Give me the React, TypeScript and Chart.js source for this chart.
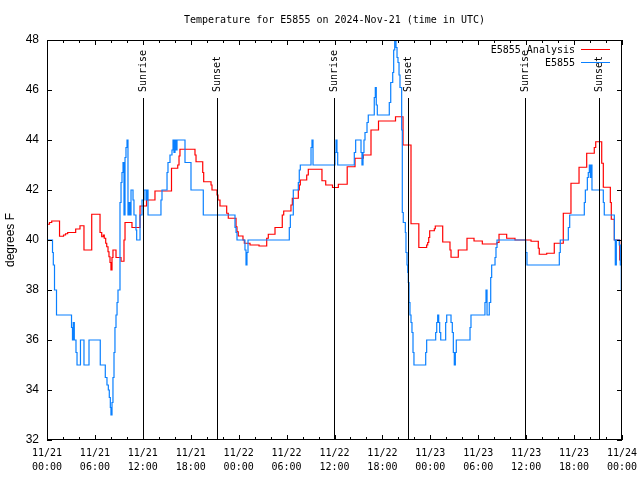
import React, { useEffect, useRef } from "react";
import { Chart, registerables } from "chart.js";

Chart.register(...registerables);

const TITLE = "Temperature for E5855 on 2024-Nov-21 (time in UTC)";
const Y_LABEL = "degrees F";
const SERIES_NAMES = ["E5855 Analysis", "E5855"];
const SERIES_COLORS = ["#ff0000", "#0a80ff"];

const X_TICK_HOURS = [0, 6, 12, 18, 24, 30, 36, 42, 48, 54, 60, 66, 72];
const X_TICK_LABELS = [
  ["11/21", "00:00"], ["11/21", "06:00"], ["11/21", "12:00"], ["11/21", "18:00"],
  ["11/22", "00:00"], ["11/22", "06:00"], ["11/22", "12:00"], ["11/22", "18:00"],
  ["11/23", "00:00"], ["11/23", "06:00"], ["11/23", "12:00"], ["11/23", "18:00"],
  ["11/24", "00:00"],
];
const X_MINOR_STEP = 2;
const Y_TICKS = [32, 34, 36, 38, 40, 42, 44, 46, 48];

const SUN_EVENT_HOURS = [12.02, 21.29, 35.94, 45.2, 59.86, 69.12];
const SUN_EVENT_LABELS = ["Sunrise", "Sunset", "Sunrise", "Sunset", "Sunrise", "Sunset"];

// E5855 observations (hours since 11/21 00:00 UTC, degrees F)
const obsHours = [
  0, 0.69, 0.79, 0.94, 1.19, 3.07, 3.19, 3.29, 3.42, 3.63, 3.76, 4.19, 4.63, 5.26, 6.67,
  7.3, 7.51, 7.68, 7.8, 7.93, 8.01, 8.14, 8.26, 8.39, 8.51, 8.64, 8.77, 8.89, 9.14, 9.27,
  9.39, 9.52, 9.64, 9.77, 9.89, 10.02, 10.14, 10.27, 10.39, 10.52, 10.77, 10.89, 11.14, 11.23,
  11.65, 11.9, 12.15, 12.4, 12.52, 12.65, 14.27, 14.4, 15.03, 15.15, 15.4, 15.65, 15.78, 15.9,
  16.03, 16.15, 16.28, 17.28, 18.03, 19.57, 23.54, 23.67, 23.79, 24.79, 24.92, 25.04, 25.17,
  30.34, 30.47, 30.84, 31.47, 31.59, 31.72, 33.06, 33.18, 33.31, 36.06, 36.19, 36.31, 36.4,
  38.48, 38.65, 39.32, 39.44, 39.57, 39.69, 39.82, 40.07, 40.23, 40.98, 41.11, 41.23, 41.36,
  42.86, 43.04, 43.29, 43.41, 43.54, 43.7, 43.83, 43.95, 44.08, 44.2, 44.41, 44.49, 44.61,
  44.87, 44.95, 45.08, 45.17, 45.24, 45.33, 45.45, 45.58, 45.7, 45.83, 45.95, 47.42, 47.54,
  48.67, 48.8, 48.92, 49.05, 49.17, 49.3, 49.92, 50.05, 50.59, 50.75, 50.88, 51.0, 51.13,
  51.25, 52.97, 53.09, 54.84, 54.97, 55.1, 55.38, 55.56, 55.68, 56.1, 56.22, 56.35, 59.94,
  60.1, 64.15, 64.27, 65.28, 65.45, 67.28, 67.41, 67.66, 67.78, 67.91, 68.03, 68.12, 68.24,
  69.66, 69.78, 71.04, 71.16, 71.29, 71.66, 71.79, 71.91, 72,
];
const obsTemps = [
  40, 39.5, 39, 38, 37, 36.5, 36, 36.7, 36, 35.5, 35, 36, 35, 36, 35,
  34.5, 34.2, 34, 33.7, 33.3, 33, 33.5, 34.5, 35.5, 36.5, 37, 37.5, 38, 41.5, 42.3,
  42.7, 43.1, 41, 43.3, 43.7, 44, 41, 41.5, 41, 42, 41.6, 41, 40.4, 40,
  41, 41.6, 42, 41.6, 42, 41, 41.6, 42, 42.7, 43.1, 43.4, 43.6, 44, 43.5,
  44, 43.6, 44, 43.1, 42, 41, 40.5, 40.3, 40, 39.6, 39, 39.5, 40,
  40.5, 41, 42, 42.3, 42.8, 43, 43.7, 44, 43, 43.5, 44, 43.5, 43,
  43.5, 44, 43.5, 43, 43.5, 44, 44.3, 44.7, 45, 45.7, 46.1, 45.4, 45,
  45.5, 46.3, 46.7, 47.6, 48, 47.7, 47.3, 47.1, 46.6, 46.1, 44.4, 41.1, 40.7,
  40.3, 39.5, 39, 38.7, 38.3, 37.5, 37, 36.7, 36.3, 35.5, 35, 35.5, 36,
  36.3, 36.7, 37, 36.7, 36.3, 36, 36.7, 37, 36.7, 36.3, 35.5, 35, 35.5,
  36, 36.5, 37, 37.5, 38, 37, 37.5, 38.5, 39, 39.3, 39.7, 40, 39.5,
  39, 39.5, 40, 40.5, 41, 41.5, 42, 42.5, 42.7, 43, 42.5, 43, 42,
  41.5, 41, 40, 39, 40, 39.8, 39, 38, 38,
];

// E5855 Analysis
const anaHours = [
  0, 0.31, 0.59, 1.57, 2.07, 2.32, 2.59, 3.59, 4.13, 4.63, 5.6, 6.64, 6.85, 7.05, 7.17, 7.35,
  7.48, 7.64, 7.76, 7.89, 8.01, 8.14, 8.26, 8.64, 9.27, 9.64, 9.77, 10.64, 11.65, 12.46, 13.52,
  15.59, 16.37, 16.53, 16.65, 18.53, 18.66, 19.5, 19.62, 20.54, 20.66, 21.29, 21.41, 21.66,
  22.5, 22.7, 23.67, 23.79, 23.95, 24.54, 24.71, 25.42, 26.55, 27.51, 27.71, 28.55, 29.46,
  29.64, 30.55, 30.72, 31.47, 31.59, 31.72, 32.52, 32.72, 34.43, 34.9, 35.75, 36.48, 37.59,
  38.57, 39.61, 40.57, 41.51, 43.64, 44.58, 45.58, 46.56, 47.54, 47.67, 47.8, 47.92, 48.5,
  48.62, 49.55, 50.46, 50.59, 51.5, 52.59, 53.47, 54.51, 56.35, 56.6, 57.56, 58.6, 60.61,
  61.52, 61.64, 62.57, 63.52, 64.65, 65.61, 66.62, 67.58, 68.53, 68.71, 69.46, 69.66, 70.54,
  70.66, 71.04, 71.71, 72,
];
const anaTemps = [
  40.63, 40.7, 40.76, 40.15, 40.2, 40.25, 40.3, 40.44, 40.57, 39.6, 41.03, 40.3, 40.13, 40.2, 40.07, 39.87,
  39.73, 39.53, 39.33, 39.1, 38.8, 39.3, 39.6, 39.3, 39.15, 40.0, 40.7, 40.5, 41.36, 41.6, 41.96,
  42.87, 43.0, 43.36, 43.63, 43.4, 43.13, 42.7, 42.33, 42.2, 42.0, 41.8, 41.6, 41.36,
  41.07, 40.87, 40.53, 40.33, 40.16, 40.0, 39.87, 39.8, 39.76, 40.07, 40.23, 40.5, 41.0,
  41.16, 41.4, 41.67, 42.0, 42.2, 42.4, 42.6, 42.83, 42.37, 42.2, 42.1, 42.23, 42.93,
  43.27, 43.4, 44.4, 44.76, 44.93, 43.8, 40.65, 39.7, 39.8, 39.9, 40.1, 40.37, 40.45,
  40.56, 39.92, 39.6, 39.31, 39.6, 40.07, 39.96, 39.84, 39.9, 40.23, 40.07, 40.0, 39.95,
  39.67, 39.43, 39.47, 39.87, 41.07, 42.27, 42.91, 43.47, 43.7, 43.93, 43.07, 42.11, 41.5,
  40.83, 40.0, 39.2, 39.2,
];

const MONO = "'DejaVu Sans Mono', 'Liberation Mono', monospace";
const SANS = "'Liberation Sans', Arial, sans-serif";

const gnuplotDecor = {
  id: "gnuplotDecor",
  afterDatasetsDraw(chart: any) {
    const { ctx, chartArea: a, scales } = chart;
    const xs = scales.x;
    const ys = scales.y;
    ctx.save();
    ctx.strokeStyle = "#000";
    ctx.lineWidth = 1;
    ctx.fillStyle = "#000";

    // sunrise / sunset markers
    SUN_EVENT_HOURS.forEach((h, i) => {
      const px = Math.round(xs.getPixelForValue(h)) + 0.5;
      ctx.beginPath();
      ctx.moveTo(px, a.top + 58);
      ctx.lineTo(px, a.bottom);
      ctx.stroke();
      ctx.save();
      ctx.translate(px, a.top + 52);
      ctx.rotate(-Math.PI / 2);
      ctx.font = `10px ${MONO}`;
      ctx.textAlign = "left";
      ctx.textBaseline = "middle";
      ctx.fillText(SUN_EVENT_LABELS[i], 0, 0);
      ctx.restore();
    });

    // border
    ctx.strokeRect(a.left + 0.5, a.top + 0.5, a.right - a.left - 1, a.bottom - a.top - 1);

    // x ticks (major and minor), mirrored; y ticks mirrored
    const xMin = X_TICK_HOURS[0];
    const xMax = X_TICK_HOURS[X_TICK_HOURS.length - 1];
    ctx.beginPath();
    for (let h = xMin; h <= xMax; h += X_MINOR_STEP) {
      const px = Math.round(xs.getPixelForValue(h)) + 0.5;
      const len = X_TICK_HOURS.includes(h) ? 5 : 3;
      ctx.moveTo(px, a.bottom);
      ctx.lineTo(px, a.bottom - len);
      ctx.moveTo(px, a.top);
      ctx.lineTo(px, a.top + len);
    }
    Y_TICKS.forEach((v) => {
      const py = Math.round(ys.getPixelForValue(v)) + 0.5;
      ctx.moveTo(a.left, py);
      ctx.lineTo(a.left + 5, py);
      ctx.moveTo(a.right, py);
      ctx.lineTo(a.right - 5, py);
    });
    ctx.stroke();

    // title
    ctx.font = `10px ${MONO}`;
    ctx.textAlign = "center";
    ctx.textBaseline = "middle";
    ctx.fillText(TITLE, (a.left + a.right) / 2, a.top - 20);

    // legend (gnuplot style: text then sample line)
    SERIES_NAMES.forEach((name, i) => {
      const yRow = a.top + 10 + i * 13;
      ctx.fillStyle = "#000";
      ctx.textAlign = "right";
      ctx.fillText(name, a.right - 47, yRow);
      ctx.strokeStyle = SERIES_COLORS[i];
      ctx.beginPath();
      ctx.moveTo(a.right - 41, yRow - 0.5);
      ctx.lineTo(a.right - 12, yRow - 0.5);
      ctx.stroke();
    });
    ctx.restore();
  },
};

export default function App() {
  const canvasRef = useRef<HTMLCanvasElement | null>(null);

  useEffect(() => {
    const canvas = canvasRef.current;
    if (!canvas) return;
    const chart = new Chart(canvas, {
      type: "line",
      data: {
        datasets: [
          {
            label: SERIES_NAMES[1],
            data: obsHours.map((h, i) => ({ x: h, y: obsTemps[i] })),
            borderColor: SERIES_COLORS[1],
            borderWidth: 1.2,
            pointRadius: 0,
            stepped: "before",
            fill: false,
            order: 0,
          },
          {
            label: SERIES_NAMES[0],
            data: anaHours.map((h, i) => ({ x: h, y: anaTemps[i] })),
            borderColor: SERIES_COLORS[0],
            borderWidth: 1.2,
            pointRadius: 0,
            stepped: "before",
            fill: false,
            order: 1,
          },
        ],
      },
      options: {
        animation: false,
        responsive: false,
        maintainAspectRatio: false,
        layout: { padding: { left: 0, top: 40, right: 18, bottom: 0 } },
        plugins: {
          legend: { display: false },
          title: { display: false },
          tooltip: { enabled: false },
        },
        scales: {
          x: {
            type: "linear",
            min: X_TICK_HOURS[0],
            max: X_TICK_HOURS[X_TICK_HOURS.length - 1],
            grid: { display: false, drawTicks: false },
            border: { display: false },
            afterBuildTicks: (s: any) => {
              s.ticks = X_TICK_HOURS.map((v) => ({ value: v }));
            },
            afterFit: (s: any) => {
              s.height = 40;
              s.paddingLeft = 0;
              s.paddingRight = 0;
            },
            ticks: {
              autoSkip: false,
              maxRotation: 0,
              color: "#000",
              padding: 6,
              font: { family: MONO, size: 10, lineHeight: "14px" },
              callback: (_v: any, i: number) => X_TICK_LABELS[i],
            },
          },
          y: {
            min: Y_TICKS[0],
            max: Y_TICKS[Y_TICKS.length - 1],
            grid: { display: false, drawTicks: false },
            border: { display: false },
            afterBuildTicks: (s: any) => {
              s.ticks = Y_TICKS.map((v) => ({ value: v }));
            },
            afterFit: (s: any) => {
              s.width = 47;
              s.paddingTop = 0;
              s.paddingBottom = 0;
            },
            ticks: {
              color: "#000",
              padding: 8,
              font: { family: SANS, size: 12 },
            },
            title: {
              display: true,
              text: Y_LABEL,
              color: "#000",
              font: { family: SANS, size: 12 },
              padding: { top: 3, bottom: 0 },
            },
          },
        },
      },
      plugins: [gnuplotDecor],
    });
    return () => chart.destroy();
  }, []);

  return (
    <div style={{ position: "absolute", left: 0, top: 0, width: 640, height: 480, background: "#fff" }}>
      <canvas ref={canvasRef} width={640} height={480} style={{ display: "block" }} />
    </div>
  );
}
